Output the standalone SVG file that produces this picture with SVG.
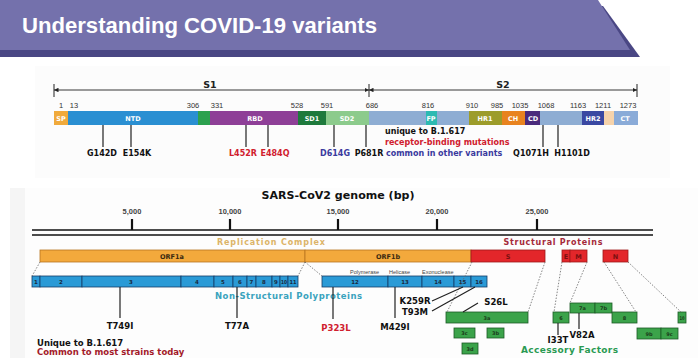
<svg xmlns="http://www.w3.org/2000/svg" width="700" height="358" viewBox="0 0 700 358">
<defs>
<marker id="arr" viewBox="0 0 6 6" refX="6" refY="3" markerWidth="5" markerHeight="5" orient="auto-start-reverse"><path d="M0,0 L6,3 L0,6 z" fill="#222"/></marker>
<style>
.num{font-family:"Liberation Sans",Arial,sans-serif;font-size:7.5px;fill:#333;text-anchor:middle}
.bl{font-family:"DejaVu Sans",sans-serif;font-size:6.5px;font-weight:bold;fill:#fff;text-anchor:middle}
.mut{font-family:"DejaVu Sans",sans-serif;font-size:8.5px;font-weight:bold;text-anchor:middle}
.mu{font-size:8px}
.k{fill:#111}.r{fill:#d0202e}.b{fill:#3a3a9e}
.leg{font-family:"DejaVu Sans",sans-serif;font-size:8px;font-weight:bold}
.tk{stroke:#222;stroke-width:1.2;fill:none}
.dot{stroke:#666;stroke-width:0.8;stroke-dasharray:1.5,1.5;fill:none}
.ax{font-family:"Liberation Sans",Arial,sans-serif;font-size:7.5px;font-weight:bold;fill:#444;text-anchor:middle}
.orf{fill:#f3a93c;stroke:#b7741e;stroke-width:0.8}
.red{fill:#e3262a;stroke:#9e1a1a;stroke-width:0.8}
.nsp{fill:#2a9ad6;stroke:#163c66;stroke-width:0.8}
.acc{fill:#3ba34a;stroke:#1d5a26;stroke-width:0.8}
.sl{font-family:"DejaVu Sans",sans-serif;font-size:5.5px;font-weight:bold;fill:#1a2a40;text-anchor:middle}
.al{font-family:"DejaVu Sans",sans-serif;font-size:5px;font-weight:bold;fill:#1a3a1a;text-anchor:middle}
.ol{font-family:"DejaVu Sans",sans-serif;font-size:6.5px;font-weight:bold;fill:#3a2a10;text-anchor:middle}
.sm{font-family:"Liberation Sans",Arial,sans-serif;font-size:5.5px;fill:#444}
</style>
</defs>
<rect width="700" height="358" fill="#fff"/>
<!-- banner -->
<g id="banner">
<polygon points="0,6 603,6 640,57 0,57" fill="#4a4784"/>
<polygon points="0,0 598,0 630,50 0,50" fill="#7471ac"/>
<text x="22" y="33" font-family="Liberation Sans,Arial,sans-serif" font-size="22" font-weight="bold" fill="#fff" textLength="355" lengthAdjust="spacingAndGlyphs">Understanding COVID-19 variants</text>
</g>
<!-- panels -->
<rect x="35" y="66" width="635" height="112" fill="#fcfcfc"/>
<rect x="10" y="188" width="688" height="170" fill="#fdfdfd"/>
<rect x="10" y="188" width="15" height="170" fill="#f5f5f5"/>

<!-- Spike protein -->
<g id="spike">
<g id="s-dims">
<line x1="54" y1="90" x2="369" y2="90" stroke="#222" stroke-width="0.9" marker-start="url(#arr)" marker-end="url(#arr)"/>
<line x1="369" y1="90" x2="637" y2="90" stroke="#222" stroke-width="0.9" marker-start="url(#arr)" marker-end="url(#arr)"/>
<line x1="54" y1="84" x2="54" y2="97" stroke="#222" stroke-width="1"/>
<line x1="369" y1="84" x2="369" y2="97" stroke="#222" stroke-width="1"/>
<line x1="637" y1="84" x2="637" y2="97" stroke="#222" stroke-width="1"/>
<text x="210" y="88" font-family="DejaVu Sans,sans-serif" font-size="9.5" font-weight="bold" fill="#222" text-anchor="middle">S1</text>
<text x="503" y="88" font-family="DejaVu Sans,sans-serif" font-size="9.5" font-weight="bold" fill="#222" text-anchor="middle">S2</text>
</g>
<g id="s-nums">
<text class="num" x="61" y="108">1</text>
<text class="num" x="74" y="108">13</text>
<text class="num" x="193" y="108">306</text>
<text class="num" x="217" y="108">331</text>
<text class="num" x="297" y="108">528</text>
<text class="num" x="327" y="108">591</text>
<text class="num" x="372" y="108">686</text>
<text class="num" x="428" y="108">816</text>
<text class="num" x="472" y="108">910</text>
<text class="num" x="497" y="108">985</text>
<text class="num" x="520" y="108">1035</text>
<text class="num" x="546" y="108">1068</text>
<text class="num" x="578" y="108">1163</text>
<text class="num" x="603" y="108">1211</text>
<text class="num" x="628" y="108">1273</text>
</g>
<g id="s-bar">
<rect x="54" y="111" width="14" height="14" fill="#f0aa3c"/>
<rect x="68" y="111" width="130" height="14" fill="#2a8fd2"/>
<rect x="198" y="111" width="12" height="14" fill="#2ca14e"/>
<rect x="210" y="111" width="88" height="14" fill="#8e3f97"/>
<rect x="298" y="111" width="28" height="14" fill="#1e7a3c"/>
<rect x="326" y="111" width="43" height="14" fill="#8ccb8c"/>
<rect x="369" y="111" width="100" height="14" fill="#8eadd3"/>
<rect x="426" y="111" width="11" height="14" fill="#2cbab2"/>
<rect x="469" y="111" width="33" height="14" fill="#9c9c2a"/>
<rect x="502" y="111" width="23" height="14" fill="#e8831f"/>
<rect x="525" y="111" width="15" height="14" fill="#4a2a7c"/>
<rect x="540" y="111" width="42" height="14" fill="#8eadd3"/>
<rect x="582" y="111" width="22" height="14" fill="#3a48a2"/>
<rect x="604" y="111" width="10" height="14" fill="#f6d3ab"/>
<rect x="614" y="111" width="24" height="14" fill="#8aabd8"/>
<text class="bl" x="61" y="120.5">SP</text>
<text class="bl" x="133" y="120.5">NTD</text>
<text class="bl" x="255" y="120.5">RBD</text>
<text class="bl" x="312" y="120.5">SD1</text>
<text class="bl" x="347" y="120.5">SD2</text>
<text class="bl" x="431" y="120.5">FP</text>
<text class="bl" x="485" y="120.5">HR1</text>
<text class="bl" x="513" y="120.5">CH</text>
<text class="bl" x="533" y="120.5">CD</text>
<text class="bl" x="593" y="120.5">HR2</text>
<text class="bl" x="625" y="120.5">CT</text>
</g>
<g id="s-muts">
<text class="mut mu k" x="102" y="156">G142D</text>
<text class="mut mu k" x="137" y="156">E154K</text>
<text class="mut mu r" x="243" y="156">L452R</text>
<text class="mut mu r" x="275" y="156">E484Q</text>
<text class="mut mu b" x="335" y="156">D614G</text>
<text class="mut mu k" x="369" y="156">P681R</text>
<text class="mut mu k" x="531" y="156">Q1071H</text>
<text class="mut mu k" x="572" y="156">H1101D</text>
</g>
<g id="s-legend">
<text class="leg k" x="385" y="134">unique to B.1.617</text>
<text class="leg r" x="385" y="145">receptor-binding mutations</text>
<text class="leg b" x="386" y="156">common in other variants</text>
</g>
</g>

<!-- Genome -->
<g id="genome-axis">
<text x="338" y="199" font-family="DejaVu Sans,sans-serif" font-size="10.5" font-weight="bold" fill="#111" text-anchor="middle" textLength="153" lengthAdjust="spacingAndGlyphs">SARS-CoV2 genome (bp)</text>
<text class="ax" x="132" y="214">5,000</text>
<text class="ax" x="230" y="214">10,000</text>
<text class="ax" x="338" y="214">15,000</text>
<text class="ax" x="437" y="214">20,000</text>
<text class="ax" x="537" y="214">25,000</text>
<line x1="32" y1="230" x2="653" y2="230" stroke="#111" stroke-width="1.6"/>
<line x1="32" y1="235" x2="653" y2="235" stroke="#111" stroke-width="1.6"/>
<g stroke="#111" stroke-width="2.2">
<line x1="132" y1="219" x2="132" y2="230"/>
<line x1="230" y1="219" x2="230" y2="230"/>
<line x1="338" y1="219" x2="338" y2="230"/>
<line x1="437" y1="219" x2="437" y2="230"/>
<line x1="537" y1="219" x2="537" y2="230"/>
</g>
</g>
<g id="orfs">
<text x="271" y="245" font-family="DejaVu Sans,sans-serif" font-size="8" font-weight="bold" fill="#dcb468" text-anchor="middle" textLength="108" lengthAdjust="spacing">Replication Complex</text>
<text x="553" y="245" font-family="DejaVu Sans,sans-serif" font-size="8" font-weight="bold" fill="#a52a3a" text-anchor="middle" textLength="99" lengthAdjust="spacing">Structural Proteins</text>
<rect class="orf" x="40" y="250" width="265" height="12"/>
<rect class="orf" x="305" y="250" width="166" height="12"/>
<rect class="red" x="471" y="250" width="74" height="12"/>
<rect class="red" x="562" y="250" width="8" height="12"/>
<rect class="red" x="570" y="250" width="17" height="12"/>
<rect class="red" x="603" y="250" width="25" height="12"/>
<text class="ol" x="172" y="258.5">ORF1a</text>
<text class="ol" x="388" y="258.5">ORF1b</text>
<text class="ol" x="508" y="258.5" style="fill:#7a1010">S</text>
<text class="ol" x="566" y="258.5" style="fill:#7a1010">E</text>
<text class="ol" x="578.5" y="258.5" style="fill:#7a1010">M</text>
<text class="ol" x="615.5" y="258.5" style="fill:#7a1010">N</text>
</g>
<g id="nsps">
<rect class="nsp" x="32" y="276" width="8" height="11"/>
<rect class="nsp" x="40" y="276" width="42" height="11"/>
<rect class="nsp" x="82" y="276" width="99" height="11"/>
<rect class="nsp" x="181" y="276" width="33" height="11"/>
<rect class="nsp" x="214" y="276" width="19" height="11"/>
<rect class="nsp" x="233" y="276" width="14" height="11"/>
<rect class="nsp" x="247" y="276" width="9" height="11"/>
<rect class="nsp" x="256" y="276" width="16" height="11"/>
<rect class="nsp" x="272" y="276" width="8" height="11"/>
<rect class="nsp" x="280" y="276" width="8" height="11"/>
<rect class="nsp" x="288" y="276" width="10" height="11"/>
<rect class="nsp" x="322" y="276" width="66" height="11"/>
<rect class="nsp" x="388" y="276" width="34" height="11"/>
<rect class="nsp" x="422" y="276" width="32" height="11"/>
<rect class="nsp" x="454" y="276" width="17" height="11"/>
<rect class="nsp" x="471" y="276" width="16" height="11"/>
<text class="sl" x="36" y="283.5">1</text>
<text class="sl" x="61" y="283.5">2</text>
<text class="sl" x="131" y="283.5">3</text>
<text class="sl" x="197" y="283.5">4</text>
<text class="sl" x="223" y="283.5">5</text>
<text class="sl" x="240" y="283.5">6</text>
<text class="sl" x="251.5" y="283.5">7</text>
<text class="sl" x="264" y="283.5">8</text>
<text class="sl" x="276" y="283.5">9</text>
<text class="sl" x="284" y="283.5" textLength="6" lengthAdjust="spacingAndGlyphs">10</text>
<text class="sl" x="293" y="283.5" textLength="7" lengthAdjust="spacingAndGlyphs">11</text>
<text class="sl" x="355" y="283.5">12</text>
<text class="sl" x="405" y="283.5">13</text>
<text class="sl" x="438" y="283.5">14</text>
<text class="sl" x="462.5" y="283.5">15</text>
<text class="sl" x="479" y="283.5">16</text>
<text class="sm" x="350" y="274">Polymerase</text>
<text class="sm" x="389" y="274">Helicase</text>
<text class="sm" x="422" y="274">Exonuclease</text>
<text x="215" y="299" font-family="DejaVu Sans,sans-serif" font-size="8.5" font-weight="bold" fill="#3aa3bd" textLength="147" lengthAdjust="spacing">Non-Structural Polyproteins</text>
</g>
<g id="accessory">
<rect class="acc" x="446" y="312" width="82" height="11"/>
<rect class="acc" x="454" y="328" width="21" height="10"/>
<rect class="acc" x="487" y="328" width="17" height="10"/>
<rect class="acc" x="462" y="343" width="16" height="11"/>
<rect class="acc" x="553" y="312" width="16" height="11"/>
<rect class="acc" x="570" y="303" width="25" height="10"/>
<rect class="acc" x="595" y="303" width="17" height="10"/>
<rect class="acc" x="612" y="312" width="25" height="11"/>
<rect class="acc" x="678" y="312" width="8" height="11"/>
<rect class="acc" x="637" y="328" width="24" height="11"/>
<rect class="acc" x="661" y="328" width="17" height="11"/>
<text class="al" x="487" y="319.5">3a</text>
<text class="al" x="464.5" y="335">3c</text>
<text class="al" x="495.5" y="335">3b</text>
<text class="al" x="470" y="350.5">3d</text>
<text class="al" x="561" y="319.5">6</text>
<text class="al" x="582.5" y="310">7a</text>
<text class="al" x="603.5" y="310">7b</text>
<text class="al" x="624.5" y="319.5">8</text>
<text class="al" x="682" y="319.5" textLength="5" lengthAdjust="spacingAndGlyphs">10</text>
<text class="al" x="649" y="335.5">9b</text>
<text class="al" x="669.5" y="335.5">9c</text>
<text x="569.5" y="353" font-family="DejaVu Sans,sans-serif" font-size="9" font-weight="bold" fill="#2a9a52" text-anchor="middle" textLength="97" lengthAdjust="spacing">Accessory Factors</text>
</g>
<g id="connectors">
<path class="tk" d="M103,125V147 M131,125V147 M246,125V147 M268,125V147 M334,125V147 M366,125V147 M543,125V147 M558,125V147"/>
<path class="dot" d="M40,262L32,276 M305,262L298,276 M305,262L322,276 M472,262L447,312 M545,262L528,312 M562,262L554,312 M587,262L570,303 M604,262L636,312 M628,262L681,312"/>
<path class="tk" d="M120,287V318 M237,287V318 M333,287V319 M395,287V318 M432,301L463,287 M432,311L475,287 M478,303L463,312 M558,323V335 M579,313V329"/>
</g>
<g id="genome-muts">
<text class="mut k" x="120" y="329">T749I</text>
<text class="mut k" x="237" y="329">T77A</text>
<text class="mut r" x="336" y="331">P323L</text>
<text class="mut k" x="395" y="330">M429I</text>
<text class="mut k" x="415" y="304">K259R</text>
<text class="mut k" x="415" y="315">T93M</text>
<text class="mut k" x="496" y="305">S26L</text>
<text class="mut k" x="558" y="343">I33T</text>
<text class="mut k" x="582" y="338">V82A</text>
<text x="37" y="346" font-family="DejaVu Sans,sans-serif" font-size="8.5" font-weight="bold" fill="#111">Unique to B.1.617</text>
<text x="37" y="355" font-family="DejaVu Sans,sans-serif" font-size="8.5" font-weight="bold" fill="#a31a2a">Common to most strains today</text>
</g>
</svg>
